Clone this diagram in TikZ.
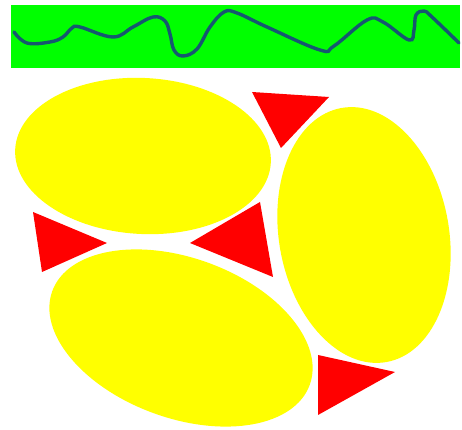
\documentclass[tikz,border=0pt]{standalone}
\usepackage{tikz}
\usetikzlibrary{positioning, calc}

\definecolor{bandgreen}{RGB}{0,255,0}
\definecolor{wavecol}{RGB}{22,88,112}
\definecolor{blobyellow}{RGB}{255,255,0}
\definecolor{wedgered}{RGB}{255,0,0}

\begin{document}
\begin{tikzpicture}[x=0.03cm, y=-0.03cm,
  blob/.style={fill=blobyellow},
  wedge/.style={fill=wedgered},
  wave/.style={draw=wavecol, line width=2.9pt, line cap=round}]
\useasboundingbox (0,0) rectangle (462,430);

% Green band with the wavy line
\fill[bandgreen] (11,5) rectangle (460,68);
\draw[wave] plot[smooth, tension=0.65] coordinates {
  (14,32) (27,43) (50,42) (63,37) (72,28) (80,27) (113,37) (133,27)
  (153,17) (165,21) (170,34) (174,50) (183,56) (197,49) (210,27)
  (224,12) (237,13) (267,27) (320,50) (334,46) (367,20) (383,22)
  (409,40) (414,30) (416,15) (424,11) (432,17) (459,43)};

% Yellow ellipses
\fill[blob, rotate around={-3:(143,156)}] (143,156) ellipse [x radius=128, y radius=78];
\fill[blob, rotate around={10:(364,235)}] (364,235) ellipse [x radius=85, y radius=129];
\fill[blob, rotate around={-20:(181,338)}] (181,338) ellipse [x radius=137, y radius=80];

% Red triangles
\fill[wedge] (252,92) -- (329,97) -- (281,148) -- cycle;
\fill[wedge] (33,212) -- (107,243) -- (42,272) -- cycle;
\fill[wedge] (260,202) -- (190,243) -- (273,277) -- cycle;
\fill[wedge] (318,355) -- (395,372) -- (318,415) -- cycle;
\end{tikzpicture}
\end{document}
